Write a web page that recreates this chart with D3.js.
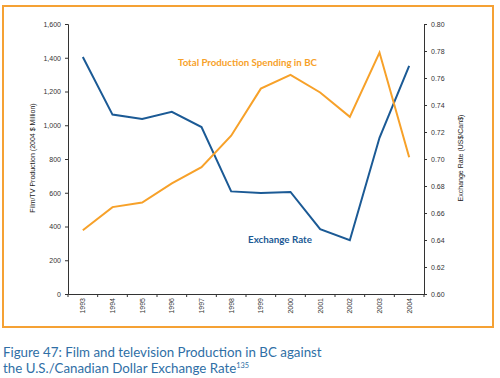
<!DOCTYPE html>
<html>
<head>
<meta charset="utf-8">
<script src="https://cdn.jsdelivr.net/npm/d3@7"></script>
<style>
html,body{margin:0;padding:0;background:#fff;}
svg{display:block;}
</style>
</head>
<body>
<svg id="chart" width="500" height="378"></svg>
<script>
const years = ["1993","1994","1995","1996","1997","1998","1999","2000","2001","2002","2003","2004"];
const production = [378, 515, 542, 656, 752, 938, 1217, 1298, 1194, 1050, 1431, 810];
const exchangeRate = [0.7756, 0.7329, 0.7297, 0.7349, 0.7237, 0.6760, 0.6748, 0.6756, 0.6480, 0.6398, 0.7157, 0.7690];
const leftTicks = [0, 200, 400, 600, 800, 1000, 1200, 1400, 1600];
const rightTicks = [0.60, 0.62, 0.64, 0.66, 0.68, 0.70, 0.72, 0.74, 0.76, 0.78, 0.80];

const orange = "#f7a129";
const blue = "#1b5a95";
const captionBlue = "#2f6fa6";
const axisColor = "#333";

const svg = d3.select("#chart");

// frame
svg.append("rect").attr("x", 3).attr("y", 6).attr("width", 490).attr("height", 321)
  .attr("fill", "none").attr("stroke", "#f5a134").attr("stroke-width", 2);

const x = d3.scaleBand().domain(years).range([68, 424]).padding(0);
const yL = d3.scaleLinear().domain([0, 1600]).range([294, 24]);
const yR = d3.scaleLinear().domain([0.60, 0.80]).range([294, 24]);

const fontFam = "'Liberation Sans', Arial, sans-serif";

// left axis
const gL = svg.append("g").attr("transform", "translate(68,0)")
  .call(d3.axisLeft(yL).tickValues(leftTicks).tickFormat(d3.format(",")).tickSize(3).tickPadding(4));
// right axis
const gR = svg.append("g").attr("transform", "translate(424,0)")
  .call(d3.axisRight(yR).tickValues(rightTicks).tickFormat(d3.format(".2f")).tickSize(3).tickPadding(4));
// bottom axis
const gB = svg.append("g").attr("transform", "translate(0,294)")
  .call(d3.axisBottom(x).tickSize(0).tickPadding(0));
// boundary ticks for bottom axis
const bounds = years.map(d => x(d)).concat([x(years[years.length-1]) + x.bandwidth()]);
gB.selectAll(".btick").data(bounds).enter().append("line")
  .attr("class", "btick").attr("x1", d => d).attr("x2", d => d).attr("y1", 0).attr("y2", 3)
  .attr("stroke", axisColor);
gB.selectAll(".tick text")
  .attr("transform", "rotate(-90)")
  .attr("text-anchor", "end")
  .attr("x", -4).attr("y", 0).attr("dy", "0.35em");

[gL, gR, gB].forEach(g => {
  g.select(".domain").attr("stroke", axisColor);
  g.selectAll(".tick line").attr("stroke", axisColor);
  g.selectAll("text").attr("fill", "#333").attr("font-size", 7).attr("font-family", fontFam);
});

// axis titles
svg.append("text").attr("transform", "translate(35,158) rotate(-90)")
  .attr("text-anchor", "middle").attr("font-size", 7).attr("font-family", fontFam)
  .attr("fill", "#222").text("Film/TV Production (2004 $ Million)");
svg.append("text").attr("transform", "translate(463,158) rotate(-90)")
  .attr("text-anchor", "middle").attr("font-size", 7).attr("font-family", fontFam)
  .attr("fill", "#222").text("Exchange Rate (US$/Can$)");

const cx = d => x(d) + x.bandwidth() / 2;

// lines
svg.append("path").datum(years.map((d, i) => [cx(d), yR(exchangeRate[i])]))
  .attr("d", d3.line()).attr("fill", "none").attr("stroke", blue).attr("stroke-width", 2)
  .attr("stroke-linejoin", "miter");
svg.append("path").datum(years.map((d, i) => [cx(d), yL(production[i])]))
  .attr("d", d3.line()).attr("fill", "none").attr("stroke", orange).attr("stroke-width", 2)
  .attr("stroke-linejoin", "miter");

// annotations
const annoFont = "Lato, 'Open Sans', sans-serif";
function fitText(sel, target) {
  const w = sel.node().getComputedTextLength();
  const fs = parseFloat(sel.attr("font-size"));
  sel.attr("font-size", fs * target / w);
}
const a1 = svg.append("text").attr("x", 178).attr("y", 66).attr("font-size", 9)
  .attr("font-weight", "bold").attr("font-family", annoFont).attr("fill", orange)
  .text("Total Production Spending in BC");
fitText(a1, 139);
const a2 = svg.append("text").attr("x", 248).attr("y", 243).attr("font-size", 9)
  .attr("font-weight", "bold").attr("font-family", annoFont).attr("fill", blue)
  .text("Exchange Rate");
fitText(a2, 64);

// caption
const c1 = svg.append("text").attr("x", 3).attr("y", 357).attr("font-size", 13)
  .attr("font-family", annoFont).attr("fill", captionBlue)
  .text("Figure 47: Film and television Production in BC against");
fitText(c1, 319);
const capSize = parseFloat(c1.attr("font-size"));
const c2 = svg.append("text").attr("x", 3).attr("y", 372.5).attr("font-size", capSize)
  .attr("font-family", annoFont).attr("fill", captionBlue);
c2.append("tspan").text("the U.S./Canadian Dollar Exchange Rate");
c2.append("tspan").attr("font-size", capSize * 0.55).attr("dy", -5).text("135");
</script>
</body>
</html>
